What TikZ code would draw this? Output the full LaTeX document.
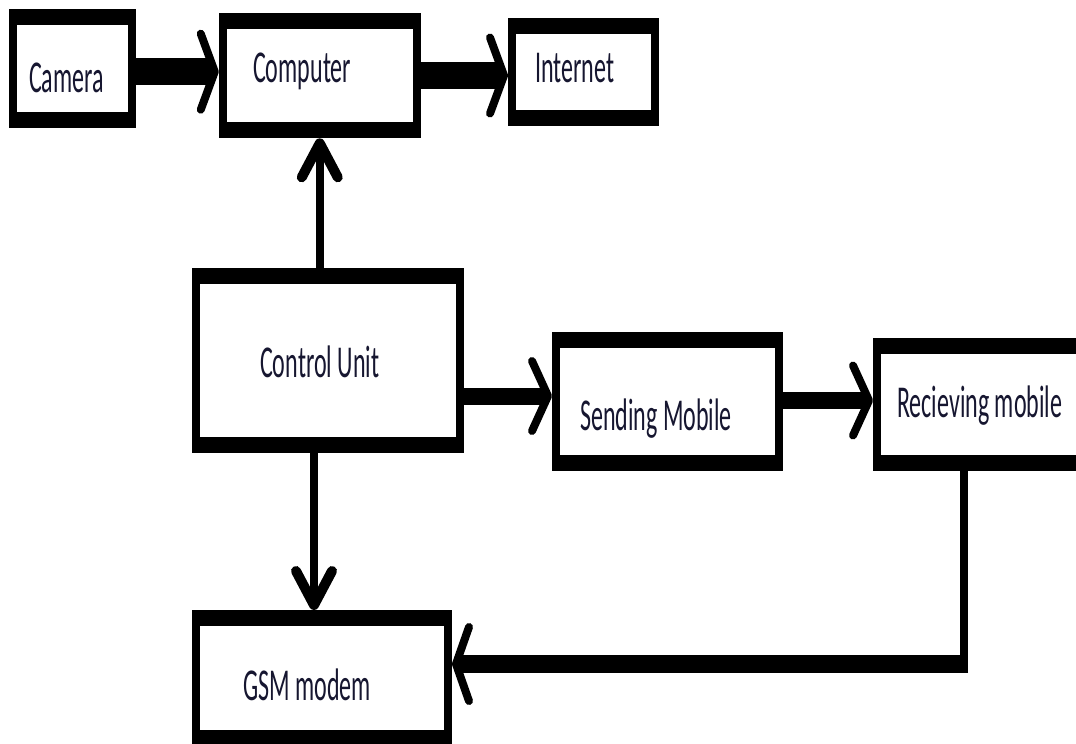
\documentclass[tikz,border=0pt]{standalone}
\usepackage{fontspec}
\setmainfont{Carlito}
\usepackage{graphicx}
\usetikzlibrary{arrows.meta}
\definecolor{txt}{HTML}{161630}
\newcommand{\stretchtext}[1]{\scalebox{1}[1.9]{#1}}
\tikzset{
  blockbox/.style={rectangle, fill=black, inner sep=0pt, outer sep=0pt,
    path picture={\fill[white] ([xshift=8pt,yshift=-16pt]path picture bounding box.north west)
      rectangle ([xshift=-8pt,yshift=16pt]path picture bounding box.south east);}},
  lbl/.style={anchor=base west, inner sep=0pt, text=txt, font=\fontsize{24}{28}\selectfont},
  toparrow/.style={line width=27pt, -{Straight Barb[length=14pt,width=76pt,line width=8pt,round]}},
  midarrow/.style={line width=17pt, -{Straight Barb[length=16pt,width=70pt,line width=8pt,round]}},
  lowarrow/.style={line width=18pt, -{Straight Barb[length=13pt,width=74pt,line width=8pt,round]}},
  vertarrow/.style={line width=8pt, -{Straight Barb[length=34pt,width=36pt,line width=10pt,round]}},
  vertline/.style={line width=8pt}
}
\begin{document}
\begin{tikzpicture}[x=1pt,y=-1pt]
\path[use as bounding box] (0,0) rectangle (1076,744);
\clip (0,0) rectangle (1076,744);
\fill[white] (0,0) rectangle (1076,744);

% boxes
\node[blockbox, minimum width=127.4pt, minimum height=118.7pt] (cam) at (72.3,68.7) {};
\node[blockbox, minimum width=202pt, minimum height=125.6pt] (comp) at (319.75,75.5) {};
\node[blockbox, minimum width=151pt, minimum height=108pt] (inet) at (583.5,72) {};
\node[blockbox, minimum width=272pt, minimum height=185pt] (cu) at (328,360.5) {};
\node[blockbox, minimum width=231pt, minimum height=139pt] (send) at (667.5,401.5) {};
\node[blockbox, minimum width=222pt, minimum height=133pt] (recv) at (984,404.5) {};
\node[blockbox, minimum width=260pt, minimum height=136pt] (gsm) at (322,678) {};

% texts
\node[lbl] (tcam) at (29,92) {\stretchtext{Camera}};
\node[lbl] (tcomp) at (253,82) {\stretchtext{Computer}};
\node[lbl] (tinet) at (535,82) {\stretchtext{Internet}};
\node[lbl] (tcu) at (260,377) {\stretchtext{Control Unit}};
\node[lbl] (tsend) at (580,430) {\stretchtext{Sending Mobile}};
\node[lbl] (trecv) at (897,417) {\stretchtext{Recieving mobile}};
\node[lbl] (tgsm) at (243,700) {\stretchtext{GSM modem}};

% connectors
\draw[toparrow] ([yshift=-3pt]cam.east) -- ([yshift=-3pt]cam.east -| comp.west);
\draw[toparrow] (comp.east) -- (comp.east -| inet.west);
\draw[vertarrow] (comp.south |- cu.north) -- (comp.south);
\draw[vertarrow] ([xshift=-8pt]gsm.north |- cu.south) -- ([xshift=-8pt]gsm.north);
\draw[midarrow] ([yshift=5.5pt]send.west -| cu.east) -- ([yshift=5.5pt]send.west);
\draw[midarrow] ([yshift=1pt]send.east) -- ([yshift=1pt]send.east -| recv.west);
\coordinate (bend) at (964,664);
\draw[vertline] (bend |- recv.south) -- ([yshift=-9pt]bend);
\draw[lowarrow] ([xshift=4pt]bend) -- (bend -| gsm.east);
\end{tikzpicture}
\end{document}
